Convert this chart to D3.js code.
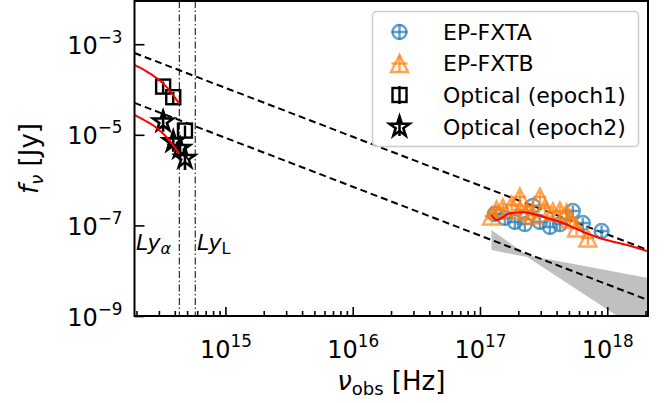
<!DOCTYPE html>
<html><head><meta charset="utf-8">
<script src="https://cdn.jsdelivr.net/npm/d3@7"></script>
<style>body{margin:0;background:#fff} svg{display:block} text{font-family:"DejaVu Sans",sans-serif}</style>
</head><body><svg id="c" width="671" height="403"></svg>
<script>
// ---- axis setup data ----
const xDomain = [1.93e14, 2.09e18];
const yDomain = [1e-9, 9.0e-3];
const xMajorTicks = [1e15, 1e16, 1e17, 1e18];
const xTickExp = ["15", "16", "17", "18"];
const yMajorTicks = [1e-9, 1e-7, 1e-5, 1e-3];
const yTickExp = ["\u22129", "\u22127", "\u22125", "\u22123"];

// ---- Lyman lines (observed frequency) ----
const lyNu = [4.34e14, 5.79e14];

// ---- power-law reference lines (dashed) ----
const dashUpperNu = [1.93e14, 2.09e18];
const dashUpperF = [6.4e-4, 2.86e-8];
const dashLowerNu = [1.93e14, 2.09e18];
const dashLowerF = [5.06e-5, 2.25e-9];

// ---- model curves (red) ----
const redOptNu = [1.93e14, 2.33e14, 2.88e14, 3.53e14, 4.34e14];
const redOpt1F = [3.49e-4, 2.64e-4, 1.80e-4, 1.06e-4, 4.81e-5];
const redOpt2F = [2.75e-5, 2.07e-5, 1.42e-5, 8.3e-6, 3.78e-6];
const redXNu = [1.23e17, 1.35e17, 1.72e17, 2.17e17, 3.12e17, 4.48e17, 6.43e17, 9.23e17, 1.43e18, 2.09e18];
const redXF = [1.70e-7, 1.32e-7, 1.85e-7, 1.95e-7, 1.56e-7, 1.13e-7, 7.26e-8, 5.01e-8, 3.70e-8, 2.68e-8];

// ---- grey butterfly (power-law fit uncertainty) ----
const bandNu = [1.23e17, 2.35e17, 2.09e18];
const bandHi = [7.9e-8, 2.2e-8, 6.9e-9];
const bandLo = [2.86e-8, 2.0e-8, 3.6e-10];

// ---- EP-FXTA ----
const fxtaNu = [1.309e17, 1.569e17, 1.880e17, 2.252e17, 2.604e17, 2.956e17, 3.542e17, 4.245e17, 5.366e17, 6.430e17, 9.025e17];
const fxtaF = [1.79e-7, 1.46e-7, 1.19e-7, 1.07e-7, 2.69e-7, 1.19e-7, 9.22e-8, 1.07e-7, 2.08e-7, 1.13e-7, 7.53e-8];
// ---- EP-FXTB ----
const fxtbNu = [1.233e17, 1.349e17, 1.512e17, 1.772e17, 2.058e17, 2.058e17, 2.336e17, 2.604e17, 2.956e17, 3.237e17, 3.741e17, 4.245e17, 4.790e17, 5.083e17, 5.740e17, 7.039e17];
const fxtbF = [1.61e-7, 2.19e-7, 2.43e-7, 2.83e-7, 4.25e-7, 2.19e-7, 2.08e-7, 1.70e-7, 4.25e-7, 2.43e-7, 1.98e-7, 2.08e-7, 1.88e-7, 1.39e-7, 8.77e-8, 5.27e-8];
const xrayNuErr = 0.12;   // fractional half-width of energy bins
const xrayFErr = 0.3;     // fractional flux error

// ---- Optical ----
const opt1Nu = [3.24e14, 3.89e14, 4.81e14];
const opt1F = [1.16e-4, 6.76e-5, 1.24e-5];
const opt1Err = [0.3, 0.3, 0.3];
const opt2Nu = [3.24e14, 3.89e14, 4.40e14, 4.81e14];
const opt2F = [1.95e-5, 7.07e-6, 5.05e-6, 3.03e-6];
const opt2Err = [0.4, 0.4, 0.4, 0.45];

const legendLabels = ["EP-FXTA", "EP-FXTB", "Optical (epoch1)", "Optical (epoch2)"];

// ---- layout ----
const L = 134.5, R = 648, T = 1, B = 316;
const FS = 24;
const blue = "#1f77b4", orange = "#ff7f0e";
const x = d3.scaleLog().domain(xDomain).range([L, R]);
const y = d3.scaleLog().domain(yDomain).range([B, T]);
const svg = d3.select("#c");

svg.append("clipPath").attr("id", "clip").append("rect")
  .attr("x", L).attr("y", T).attr("width", R - L).attr("height", B - T);
const g = svg.append("g").attr("clip-path", "url(#clip)");

// band
const area = d3.area().x(d => x(d.nu)).y0(d => y(d.lo)).y1(d => y(d.hi));
g.append("path").datum(bandNu.map((n, i) => ({nu: n, lo: bandLo[i], hi: bandHi[i]})))
  .attr("d", area).attr("fill", "#c0c0c0");

// Lyman lines
g.selectAll("line.ly").data(lyNu).join("line").attr("class", "ly")
  .attr("x1", d => x(d)).attr("x2", d => x(d)).attr("y1", T).attr("y2", B)
  .attr("stroke", "#000").attr("stroke-width", 1).attr("stroke-dasharray", "7,2.5,1.5,2.5");

// dashed lines
const line = d3.line().x(d => x(d[0])).y(d => y(d[1]));
[[dashUpperNu, dashUpperF], [dashLowerNu, dashLowerF]].forEach(([n, f]) => {
  g.append("path").datum(n.map((v, i) => [v, f[i]])).attr("d", line)
    .attr("fill", "none").attr("stroke", "#000").attr("stroke-width", 2).attr("stroke-dasharray", "7,4");
});

// marker helpers
function starPath(Rr) {
  const r = Rr * 0.381966; let p = "";
  for (let i = 0; i < 10; i++) {
    const a = -Math.PI / 2 + i * Math.PI / 5;
    const rr = i % 2 ? r : Rr;
    p += (i ? "L" : "M") + (rr * Math.cos(a)).toFixed(2) + "," + (rr * Math.sin(a)).toFixed(2);
  }
  return p + "Z";
}
function triPath(s) { const h = s / 2; return `M0,${-h}L${-h},${h}L${h},${h}Z`; }

function drawCircle(sel, cx, cy, x0, x1, y0, y1) {
  const gg = sel.append("g").attr("stroke", blue).attr("stroke-opacity", 0.7).attr("stroke-width", 2.4).attr("fill", "none");
  gg.append("line").attr("x1", x0).attr("x2", x1).attr("y1", cy).attr("y2", cy);
  gg.append("line").attr("x1", cx).attr("x2", cx).attr("y1", y0).attr("y2", y1);
  gg.append("circle").attr("cx", cx).attr("cy", cy).attr("r", 7);
}
function drawTri(sel, cx, cy, x0, x1, y0, y1) {
  const gg = sel.append("g").attr("stroke", orange).attr("stroke-opacity", 0.7).attr("stroke-width", 2.4).attr("fill", "none");
  gg.append("line").attr("x1", x0).attr("x2", x1).attr("y1", cy).attr("y2", cy);
  gg.append("line").attr("x1", cx).attr("x2", cx).attr("y1", y0).attr("y2", y1);
  gg.append("path").attr("d", triPath(17)).attr("transform", `translate(${cx},${cy})`);
}
function drawSq(sel, cx, cy, y0, y1) {
  const gg = sel.append("g").attr("stroke", "#000").attr("stroke-width", 2.4).attr("fill", "none");
  gg.append("line").attr("x1", cx).attr("x2", cx).attr("y1", y0).attr("y2", y1);
  gg.append("rect").attr("x", cx - 7).attr("y", cy - 7).attr("width", 14).attr("height", 14);
}
function drawStar(sel, cx, cy, y0, y1) {
  const gg = sel.append("g").attr("stroke", "#000").attr("stroke-width", 2.6).attr("fill", "none");
  gg.append("line").attr("x1", cx).attr("x2", cx).attr("y1", y0).attr("y2", y1);
  gg.append("path").attr("d", starPath(10.5)).attr("transform", `translate(${cx},${cy})`);
}

// X-ray points
fxtaNu.forEach((n, i) => {
  const f = fxtaF[i];
  drawCircle(g, x(n), y(f), x(n * (1 - xrayNuErr)), x(n * (1 + xrayNuErr)), y(f * (1 + xrayFErr)), y(f * (1 - xrayFErr)));
});
fxtbNu.forEach((n, i) => {
  const f = fxtbF[i];
  drawTri(g, x(n), y(f), x(n * (1 - xrayNuErr)), x(n * (1 + xrayNuErr)), y(f * (1 + xrayFErr)), y(f * (1 - xrayFErr)));
});
// optical
opt1Nu.forEach((n, i) => {
  const f = opt1F[i];
  drawSq(g, x(n), y(f), y(f * (1 + opt1Err[i])), y(f * (1 - opt1Err[i])));
});
opt2Nu.forEach((n, i) => {
  const f = opt2F[i];
  drawStar(g, x(n), y(f), y(f * (1 + opt2Err[i])), y(f * (1 - opt2Err[i])));
});

// red model curves
[[redOptNu, redOpt1F], [redOptNu, redOpt2F], [redXNu, redXF]].forEach(([n, f]) => {
  g.append("path").datum(n.map((v, i) => [v, f[i]])).attr("d", d3.line().x(d => x(d[0])).y(d => y(d[1])).curve(d3.curveMonotoneX))
    .attr("fill", "none").attr("stroke", "#ff0000").attr("stroke-width", 2);
});

// Ly labels
const lyA = svg.append("text").attr("x", 136).attr("y", 250).attr("font-size", 22);
lyA.append("tspan").attr("font-style", "italic").text("Ly");
lyA.append("tspan").attr("font-style", "italic").attr("font-size", 16).attr("dy", 4).text("\u03b1");
const lyL = svg.append("text").attr("x", 197).attr("y", 250).attr("font-size", 22);
lyL.append("tspan").attr("font-style", "italic").text("Ly");
lyL.append("tspan").attr("font-size", 16).attr("dy", 4).text("L");

// axes
const gx = svg.append("g").attr("transform", `translate(0,${B})`)
  .call(d3.axisBottom(x).tickValues(xMajorTicks).tickSizeInner(-9).tickSizeOuter(0).tickFormat(() => ""));
const minor = [];
for (let e = 14; e <= 18; e++) for (let k = 2; k <= 9; k++) { const v = k * Math.pow(10, e); if (v > xDomain[0] && v < xDomain[1]) minor.push(v); }
svg.append("g").attr("transform", `translate(0,${B})`)
  .call(d3.axisBottom(x).tickValues(minor).tickSizeInner(-5).tickSizeOuter(0).tickFormat(() => ""));
const gy = svg.append("g").attr("transform", `translate(${L},0)`)
  .call(d3.axisLeft(y).tickValues(yMajorTicks).tickSizeInner(-10).tickSizeOuter(0).tickFormat(() => ""));
svg.selectAll(".domain").remove();
svg.selectAll(".tick line").attr("stroke", "#000").attr("stroke-width", 1.6);

gx.selectAll(".tick text").each(function(d, i) {
  const t = d3.select(this).attr("y", 42).attr("dy", 0).attr("font-size", FS).attr("font-family", "DejaVu Sans").attr("fill", "#000");
  t.append("tspan").text("10");
  t.append("tspan").attr("dy", -11).attr("font-size", FS * 0.7).text(xTickExp[i]);
});
gy.selectAll(".tick text").each(function(d, i) {
  const t = d3.select(this).attr("x", -12).attr("dy", 0).attr("y", 9).attr("font-size", FS).attr("font-family", "DejaVu Sans").attr("fill", "#000");
  t.append("tspan").text("10");
  t.append("tspan").attr("dy", -11).attr("font-size", FS * 0.7).text(yTickExp[i]);
});

// spines
svg.append("rect").attr("x", L).attr("y", T).attr("width", R - L).attr("height", B - T)
  .attr("fill", "none").attr("stroke", "#000").attr("stroke-width", 2);

// axis labels
const xl = svg.append("text").attr("x", (L + R) / 2).attr("y", 390).attr("text-anchor", "middle").attr("font-size", 26);
xl.append("tspan").attr("font-style", "italic").text("\u03bd");
xl.append("tspan").attr("font-size", 18).attr("dy", 5).text("obs");
xl.append("tspan").attr("dy", -5).text(" [Hz]");
const yl = svg.append("text").attr("transform", `translate(38,${(T + B) / 2}) rotate(-90)`).attr("text-anchor", "middle").attr("font-size", 26);
yl.append("tspan").attr("font-style", "italic").text("f");
yl.append("tspan").attr("font-style", "italic").attr("font-size", 18).attr("dy", 5).text("\u03bd");
yl.append("tspan").attr("dy", -5).text(" [Jy]");

// legend
const lg = svg.append("g");
lg.append("rect").attr("x", 372.5).attr("y", 11.5).attr("width", 266).attr("height", 135).attr("rx", 4)
  .attr("fill", "#fff").attr("fill-opacity", 0.8).attr("stroke", "#cccccc").attr("stroke-width", 1.5);
const ly0 = [32, 63.5, 95, 127], mx = 399.5;
drawCircle(lg, mx, ly0[0], mx - 8, mx + 8, ly0[0] - 8, ly0[0] + 8);
drawTri(lg, mx, ly0[1], mx - 8, mx + 8, ly0[1] - 8, ly0[1] + 8);
drawSq(lg, mx, ly0[2], ly0[2] - 9, ly0[2] + 9);
drawStar(lg, mx, ly0[3], ly0[3] - 9, ly0[3] + 9);
legendLabels.forEach((s, i) => {
  lg.append("text").attr("x", 443).attr("y", ly0[i]).attr("dy", "0.36em").attr("font-size", 22).text(s);
});
</script></body></html>
